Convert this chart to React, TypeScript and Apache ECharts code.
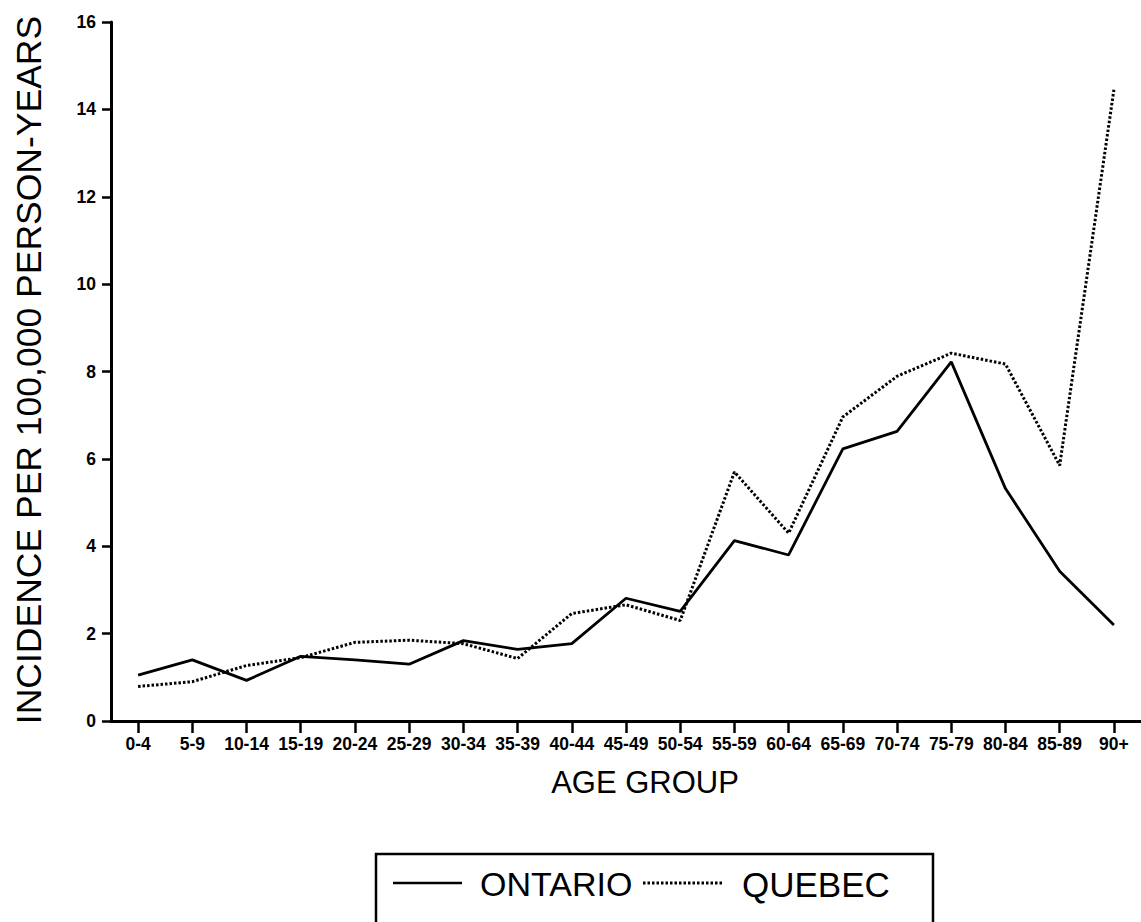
import React, { useEffect, useRef } from "react";
import * as echarts from "echarts";

const categories = ["0-4", "5-9", "10-14", "15-19", "20-24", "25-29", "30-34", "35-39", "40-44", "45-49", "50-54", "55-59", "60-64", "65-69", "70-74", "75-79", "80-84", "85-89", "90+"];
const ontario = [1.05, 1.40, 0.93, 1.48, 1.40, 1.30, 1.84, 1.64, 1.77, 2.81, 2.51, 4.13, 3.80, 6.23, 6.63, 8.22, 5.32, 3.43, 2.2];
const quebec = [0.79, 0.90, 1.27, 1.45, 1.80, 1.85, 1.77, 1.43, 2.46, 2.66, 2.30, 5.70, 4.30, 6.96, 7.89, 8.42, 8.17, 5.85, 14.45];
const seriesNames = ["ONTARIO", "QUEBEC"];
const yTitle = "INCIDENCE PER 100,000 PERSON-YEARS";
const xTitle = "AGE GROUP";

const FONT = "'Liberation Sans', Arial, Helvetica, sans-serif";

export default function App() {
  const ref = useRef<HTMLDivElement>(null);
  useEffect(() => {
    if (!ref.current) return;
    const chart = echarts.init(ref.current, null, { renderer: "svg" });
    chart.setOption({
      animation: false,
      backgroundColor: "#ffffff",
      grid: { left: 111, top: 22, width: 1039, height: 699, containLabel: false },
      xAxis: {
        type: "category",
        data: categories,
        boundaryGap: true,
        axisLine: { show: true, lineStyle: { color: "#000", width: 3 } },
        axisTick: { show: true, alignWithLabel: true, length: 12, lineStyle: { color: "#000", width: 2.5 } },
        axisLabel: { color: "#000", fontFamily: FONT, fontWeight: "bold", fontSize: 17.5, margin: 14, interval: 0 },
        splitLine: { show: false },
      },
      yAxis: {
        type: "value",
        min: 0,
        max: 16,
        interval: 2,
        axisLine: { show: true, lineStyle: { color: "#000", width: 3 } },
        axisTick: { show: true, length: 9, lineStyle: { color: "#000", width: 2.5 } },
        axisLabel: { color: "#000", fontFamily: FONT, fontWeight: "bold", fontSize: 17.5, margin: 15 },
        splitLine: { show: false },
      },
      series: [
        {
          name: seriesNames[0],
          type: "line",
          data: ontario,
          symbol: "none",
          lineStyle: { color: "#000", width: 2.8, type: "solid" },
        },
        {
          name: seriesNames[1],
          type: "line",
          data: quebec,
          symbol: "none",
          lineStyle: { color: "#000", width: 3, type: [2.5, 2] },
        },
      ],
      graphic: [
        {
          type: "text",
          x: 29,
          y: 370,
          rotation: Math.PI / 2,
          style: { text: yTitle, fill: "#000", font: `35.5px ${FONT}`, align: "center", verticalAlign: "middle" },
        },
        {
          type: "text",
          x: 645,
          y: 782,
          style: { text: xTitle, fill: "#000", font: `31px ${FONT}`, align: "center", verticalAlign: "middle" },
        },
        {
          type: "rect",
          shape: { x: 376, y: 854, width: 557, height: 80 },
          style: { fill: "none", stroke: "#000", lineWidth: 2.5 },
        },
        {
          type: "line",
          shape: { x1: 393, y1: 883, x2: 462, y2: 883 },
          style: { stroke: "#000", lineWidth: 2.6 },
        },
        {
          type: "text",
          x: 480,
          y: 884,
          style: { text: seriesNames[0], fill: "#000", font: `34px ${FONT}`, align: "left", verticalAlign: "middle" },
        },
        {
          type: "line",
          shape: { x1: 643, y1: 883, x2: 723, y2: 883 },
          style: { stroke: "#000", lineWidth: 2.8, lineDash: [2.5, 2] },
        },
        {
          type: "text",
          x: 742,
          y: 884,
          style: { text: seriesNames[1], fill: "#000", font: `35px ${FONT}`, align: "left", verticalAlign: "middle" },
        },
      ],
    });
    return () => chart.dispose();
  }, []);
  return (
    <div
      ref={ref}
      style={{ position: "absolute", left: 0, top: 0, width: 1141, height: 922, background: "#fff" }}
    />
  );
}
